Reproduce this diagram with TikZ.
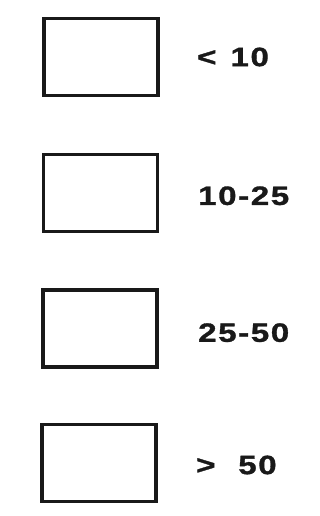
\documentclass[tikz,border=0pt]{standalone}
\usepackage{fontspec}
\setmainfont[FakeStretch=1.25, BoldFeatures={FakeBold=1.2, LetterSpace=6}]{Liberation Sans}
\begin{document}
\begin{tikzpicture}[x=1pt,y=1pt,
  legbox/.style={draw=black!90, line width=3.3pt, minimum width=114pt, minimum height=77pt, inner sep=0pt},
  leglabel/.style={anchor=west, inner sep=0pt, font=\fontsize{26.5}{26.5}\selectfont\bfseries, text=black!90}]
\useasboundingbox (0,0) rectangle (320,-516);
\node[legbox] (b1) at (101,-57) {};
\node[legbox] (b2) at (100.5,-192.7) {};
\node[legbox] (b3) at (100,-328.5) {};
\node[legbox] (b4) at (99,-462.7) {};
\node[leglabel] (l1) at (197,-57) {<\hspace{0.12em} 10};
\node[leglabel] (l2) at (198,-195.8) {10-25};
\node[leglabel] (l3) at (198,-332.7) {25-50};
\node[leglabel] (l4) at (196,-465) {>\hspace{0.45em} 50};
\end{tikzpicture}
\end{document}
